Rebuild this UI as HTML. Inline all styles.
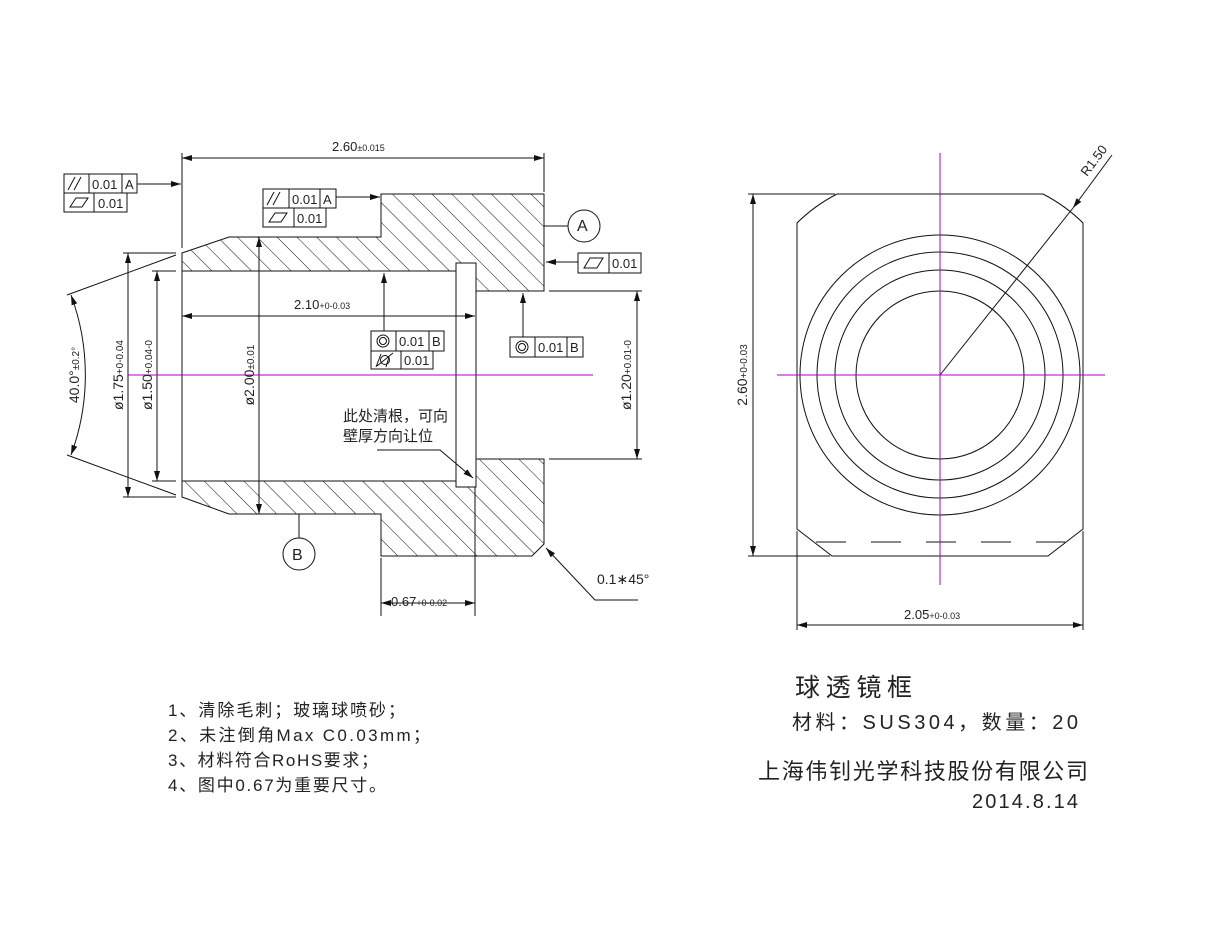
<!DOCTYPE html>
<html><head><meta charset="utf-8"><style>
html,body{margin:0;padding:0;background:#fff;}
svg{display:block;}
text{font-family:"Liberation Sans","Noto Sans CJK SC",sans-serif;fill:#222;}
.cn{font-family:"Liberation Serif","Noto Serif CJK SC","Noto Sans CJK SC",serif;}
</style></head><body>
<svg width="1224" height="934" viewBox="0 0 1224 934" xmlns="http://www.w3.org/2000/svg">
<defs>
<pattern id="h" width="14" height="14" patternUnits="userSpaceOnUse" patternTransform="rotate(-45)">
<line x1="0" y1="0" x2="0" y2="14" stroke="#111" stroke-width="1"/>
</pattern>
<marker id="a" viewBox="0 0 10 6" refX="10" refY="3" markerWidth="10" markerHeight="6" orient="auto-start-reverse" markerUnits="userSpaceOnUse">
<path d="M0,0 L10,3 L0,6 z" fill="#111"/>
</marker>
</defs>
<g stroke="#111" stroke-width="1" fill="none">
<path d="M182,253 L229,237 L381,237 L381,194 L544,194 L544,291 L476,291 L476,263 L456,263 L456,271 L182,271 Z" fill="url(#h)"/>
<path d="M182,497 L229,514 L381,514 L381,556 L532,556 L544,544 L544,459 L476,459 L476,487 L456,487 L456,481 L182,481 Z" fill="url(#h)"/>
<rect x="456" y="263" width="20" height="224" fill="#fff"/>
<line x1="182" y1="153" x2="182" y2="248"/>
<line x1="544" y1="153" x2="544" y2="192"/>
<line x1="182" y1="271" x2="182" y2="481"/>
<line x1="182" y1="158" x2="544" y2="158" marker-start="url(#a)" marker-end="url(#a)"/>
<line x1="123" y1="253" x2="176" y2="253"/><line x1="123" y1="497" x2="176" y2="497"/>
<line x1="128" y1="253" x2="128" y2="497" marker-start="url(#a)" marker-end="url(#a)"/>
<line x1="152" y1="271" x2="176" y2="271"/><line x1="152" y1="481" x2="176" y2="481"/>
<line x1="157" y1="271" x2="157" y2="481" marker-start="url(#a)" marker-end="url(#a)"/>
<line x1="259" y1="237" x2="259" y2="514" marker-start="url(#a)" marker-end="url(#a)"/>
<line x1="182" y1="316" x2="475" y2="316" marker-start="url(#a)" marker-end="url(#a)"/>
<line x1="176" y1="255" x2="67" y2="295"/><line x1="176" y1="495" x2="67" y2="455"/>
<path d="M71,295 A230,230 0 0 1 71,455" marker-start="url(#a)" marker-end="url(#a)"/>
<line x1="549" y1="291" x2="642" y2="291"/><line x1="549" y1="459" x2="642" y2="459"/>
<line x1="637" y1="291" x2="637" y2="459" marker-start="url(#a)" marker-end="url(#a)"/>
<line x1="381" y1="558" x2="381" y2="616"/><line x1="475" y1="487" x2="475" y2="616"/>
<line x1="381" y1="603" x2="475" y2="603" marker-start="url(#a)" marker-end="url(#a)"/>
<path d="M638,600 L595,600 L546,548" marker-end="url(#a)"/>
<path d="M377,450 L440,450 L473,478" marker-end="url(#a)"/>
<rect x="64" y="174" width="73" height="19"/><line x1="89" y1="174" x2="89" y2="193"/><line x1="122" y1="174" x2="122" y2="193"/>
<rect x="64" y="193" width="63" height="19"/><line x1="94" y1="193" x2="94" y2="212"/>
<line x1="137" y1="184" x2="181" y2="184" marker-end="url(#a)"/>
<path d="M68,190 L75,177 M74,190 L81,177"/>
<path d="M70,207 L76,198 L88,198 L82,207 Z"/>
<rect x="263" y="189" width="73" height="19"/><line x1="289" y1="189" x2="289" y2="208"/><line x1="320" y1="189" x2="320" y2="208"/>
<rect x="263" y="208" width="63" height="19"/><line x1="294" y1="208" x2="294" y2="227"/>
<line x1="336" y1="197" x2="380" y2="197" marker-end="url(#a)"/>
<path d="M267,205 L274,192 M273,205 L280,192"/>
<path d="M269,222 L275,213 L287,213 L281,222 Z"/>
<rect x="578" y="253" width="63" height="20"/><line x1="609" y1="253" x2="609" y2="273"/>
<line x1="578" y1="262" x2="546" y2="262" marker-end="url(#a)"/>
<path d="M584,268 L590,258 L603,258 L597,268 Z"/>
<rect x="371" y="331" width="73" height="20"/><line x1="396" y1="331" x2="396" y2="351"/><line x1="429" y1="331" x2="429" y2="351"/>
<rect x="371" y="351" width="62" height="18"/><line x1="401" y1="351" x2="401" y2="369"/>
<circle cx="383" cy="341" r="6"/><circle cx="383" cy="341" r="3.5"/>
<circle cx="385" cy="360" r="4.5"/><path d="M376,367 L381,354 M389,357 L386,367 M377,366 L393,353"/>
<line x1="384" y1="331" x2="384" y2="273" marker-end="url(#a)"/>
<rect x="510" y="337" width="73" height="20"/><line x1="535" y1="337" x2="535" y2="357"/><line x1="567" y1="337" x2="567" y2="357"/>
<circle cx="522" cy="347" r="6"/><circle cx="522" cy="347" r="3.5"/>
<line x1="523" y1="337" x2="523" y2="293" marker-end="url(#a)"/>
<circle cx="584" cy="226" r="16"/><line x1="544" y1="226" x2="568" y2="226"/>
<circle cx="299" cy="554" r="16"/><line x1="299" y1="514" x2="299" y2="538"/>
</g>
<line x1="128" y1="375" x2="593" y2="375" stroke="#b000c0" stroke-width="1"/>

<g stroke="#111" stroke-width="1" fill="none">
<path d="M837,194 L1043,194 Q1066,206 1083,223 L1083,529 L1048,556 L832,556 L797,529 L797,223 Q814,206 837,194 Z"/>
<line x1="816" y1="542" x2="1065" y2="542" stroke-dasharray="30,25"/>
<circle cx="940" cy="375" r="140"/><circle cx="940" cy="375" r="123"/>
<circle cx="940" cy="375" r="105"/><circle cx="940" cy="375" r="84"/>
<line x1="748" y1="194" x2="835" y2="194"/><line x1="748" y1="556" x2="830" y2="556"/>
<line x1="753" y1="194" x2="753" y2="556" marker-start="url(#a)" marker-end="url(#a)"/>
<line x1="797" y1="531" x2="797" y2="630"/><line x1="1083" y1="531" x2="1083" y2="630"/>
<line x1="797" y1="625" x2="1083" y2="625" marker-start="url(#a)" marker-end="url(#a)"/>
<line x1="1112" y1="155" x2="1073" y2="208" marker-end="url(#a)"/>
<line x1="1073" y1="208" x2="940" y2="375"/>
</g>
<g stroke="#b000c0" stroke-width="1">
<line x1="940" y1="153" x2="940" y2="585"/>
<line x1="777" y1="375" x2="1105" y2="375"/>
</g>

<g font-size="13">
<text x="332" y="151">2.60<tspan font-size="9">±0.015</tspan></text>
<text x="294" y="309">2.10<tspan font-size="9">+0-0.03</tspan></text>
<text x="391" y="606">0.67<tspan font-size="9">+0-0.02</tspan></text>
<text x="904" y="619">2.05<tspan font-size="9">+0-0.03</tspan></text>
<text x="597" y="584" font-size="14">0.1∗45°</text>
<text x="92" y="189">0.01</text><text x="125" y="189">A</text>
<text x="98" y="208">0.01</text>
<text x="292" y="204">0.01</text><text x="323" y="204">A</text>
<text x="297" y="223">0.01</text>
<text x="612" y="268">0.01</text>
<text x="399" y="346">0.01</text><text x="432" y="346">B</text>
<text x="404" y="365">0.01</text>
<text x="538" y="352">0.01</text><text x="570" y="352">B</text>
<text x="577" y="231" font-size="16">A</text>
<text x="292" y="560" font-size="16">B</text>
<text transform="translate(79,375) rotate(-90)" text-anchor="middle" font-size="14">40.0°<tspan font-size="10">±0.2°</tspan></text>
<text transform="translate(123,375) rotate(-90)" text-anchor="middle" font-size="14">ø1.75<tspan font-size="10">+0-0.04</tspan></text>
<text transform="translate(152,375) rotate(-90)" text-anchor="middle" font-size="14">ø1.50<tspan font-size="10">+0.04-0</tspan></text>
<text transform="translate(254,375) rotate(-90)" text-anchor="middle" font-size="14">ø2.00<tspan font-size="10">±0.01</tspan></text>
<text transform="translate(631,375) rotate(-90)" text-anchor="middle" font-size="14">ø1.20<tspan font-size="10">+0.01-0</tspan></text>
<text transform="translate(747,375) rotate(-90)" text-anchor="middle" font-size="14">2.60<tspan font-size="10">+0-0.03</tspan></text>
<text transform="translate(1087,177) rotate(-53)">R1.50</text>
</g>
<g class="cn">
<text x="343" y="421" font-size="15">此处清根，可向</text>
<text x="343" y="441" font-size="15">壁厚方向让位</text>
<text x="168" y="716" font-size="17" textLength="237">1、清除毛刺；玻璃球喷砂；</text>
<text x="168" y="741" font-size="17" textLength="262">2、未注倒角Max C0.03mm；</text>
<text x="168" y="766" font-size="17" textLength="210">3、材料符合RoHS要求；</text>
<text x="168" y="791" font-size="17" textLength="218">4、图中0.67为重要尺寸。</text>
<text x="795" y="696" font-size="25" textLength="117">球透镜框</text>
<text x="792" y="729" font-size="20" textLength="286">材料：SUS304，数量：20</text>
<text x="758" y="779" font-size="22" textLength="330">上海伟钊光学科技股份有限公司</text>
<text x="972" y="808" font-size="20" textLength="106">2014.8.14</text>
</g>
</svg>
</body></html>
